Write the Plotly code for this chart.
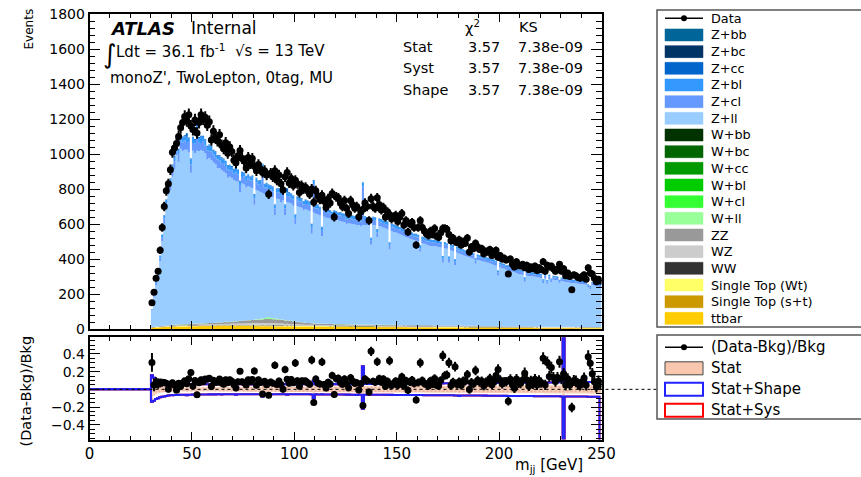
import numpy as np
import plotly.graph_objects as go

# ---------------- data: 1 GeV bins, left edges 30 ... 249 GeV ----------------
bin_low = list(range(30, 250))

data = [
    150, 210, 290, 330, 450, 580, 700, 790, 830, 910,
    1010, 1035, 1060, 1100, 1150, 1180, 1215, 1190, 1225, 1160,
    1140, 1195, 1120, 1180, 1225, 1200, 1210, 1165, 1185, 1080,
    1130, 1095, 1075, 1110, 1050, 1030, 1065, 1005, 1040, 1015,
    965, 950, 990, 1020, 975, 960, 920, 980, 945, 975,
    930, 905, 940, 915, 895, 905, 880, 770, 890, 870,
    905, 850, 880, 830, 795, 870, 895, 835, 860, 820,
    850, 830, 780, 820, 800, 810, 790, 770, 800, 725,
    790, 760, 740, 765, 730, 695, 745, 720, 775, 640,
    755, 750, 720, 700, 735, 690, 660, 735, 710, 690,
    700, 640, 670, 685, 720, 700, 620, 745, 700, 690,
    750, 710, 680, 695, 640, 670, 655, 630, 640, 650,
    615, 640, 660, 595, 620, 555, 600, 610, 580, 480,
    580, 620, 580, 560, 545, 535, 560, 540, 575, 530,
    525, 550, 575, 575, 570, 540, 505, 520, 500, 495,
    510, 480, 500, 490, 520, 440, 470, 460, 490, 470,
    455, 460, 430, 445, 440, 455, 420, 430, 450, 410,
    420, 400, 405, 395, 315, 400, 370, 355, 385, 365,
    360, 370, 350, 365, 340, 355, 345, 360, 335, 350,
    340, 385, 330, 365, 355, 360, 345, 330, 340, 370,
    330, 345, 305, 320, 300, 225, 310, 305, 295, 290,
    300, 310, 285, 350, 320, 315, 290, 270, 285, 275,
]

z_ll = [
    95, 172, 235, 272, 372, 482, 583, 666, 750, 774,
    846, 891, 969, 926, 1003, 988, 996, 997, 980, 863,
    988, 975, 987, 985, 990, 983, 969, 935, 942, 929,
    916, 905, 880, 881, 871, 860, 849, 825, 828, 818,
    808, 803, 796, 735, 785, 777, 760, 765, 759, 754,
    656, 739, 731, 725, 716, 708, 701, 692, 694, 692,
    590, 687, 685, 670, 681, 600, 676, 675, 669, 660,
    555, 659, 657, 654, 640, 649, 644, 639, 510, 631,
    627, 623, 618, 500, 611, 606, 604, 602, 590, 598,
    595, 592, 589, 585, 583, 570, 576, 575, 572, 571,
    568, 568, 560, 568, 568, 568, 565, 455, 568, 570,
    500, 564, 560, 554, 550, 544, 430, 536, 531, 527,
    525, 519, 515, 510, 504, 500, 495, 491, 487, 483,
    479, 420, 469, 466, 461, 456, 454, 454, 453, 451,
    450, 447, 360, 443, 440, 360, 431, 427, 345, 417,
    411, 407, 403, 399, 394, 391, 387, 383, 355, 377,
    374, 371, 368, 364, 361, 358, 353, 349, 345, 290,
    337, 332, 329, 324, 321, 316, 312, 309, 304, 300,
    297, 295, 255, 290, 289, 287, 286, 284, 282, 281,
    279, 250, 276, 245, 273, 255, 269, 267, 265, 248,
    261, 259, 256, 254, 252, 250, 249, 248, 246, 245,
    244, 243, 241, 225, 215, 238, 235, 233, 230, 228,
]

z_cl = [
    5, 9, 12, 14, 19, 24, 29, 33, 36, 39,
    42, 45, 45, 46, 48, 50, 55, 38, 60, 47,
    44, 52, 110, 47, 40, 58, 46, 52, 39, 50,
    46, 40, 52, 44, 38, 50, 41, 47, 36, 44,
    35, 48, 40, 41, 37, 45, 36, 44, 39, 42,
    36, 42, 38, 40, 140, 37, 44, 35, 41, 33,
    38, 33, 40, 36, 31, 39, 34, 37, 30, 36,
    32, 37, 30, 35, 33, 29, 36, 31, 34, 160,
    30, 34, 29, 31, 33, 27, 32, 30, 28, 33,
    31, 28, 32, 27, 30, 29, 26, 31, 28, 30,
    27, 31, 28, 220, 29, 26, 30, 24, 28, 27,
    29, 27, 25, 28, 26, 27, 24, 28, 25, 26,
    24, 27, 23, 25, 22, 26, 23, 24, 21, 25,
    23, 21, 24, 22, 20, 23, 22, 21, 24, 20,
    22, 20, 23, 21, 19, 22, 21, 19, 20, 22,
    19, 21, 20, 18, 20, 19, 17, 20, 18, 19,
    18, 19, 17, 18, 16, 19, 17, 18, 16, 17,
    17, 16, 18, 15, 16, 17, 15, 16, 14, 16,
    15, 14, 16, 14, 15, 13, 15, 14, 13, 15,
    14, 13, 15, 13, 14, 13, 12, 14, 13, 12,
    13, 12, 14, 12, 13, 12, 13, 11, 12, 13,
    12, 13, 11, 12, 12, 11, 12, 11, 12, 11,
]

z_bl = [
    3, 5, 7, 8, 10, 14, 16, 18, 20, 22,
    24, 25, 25, 26, 27, 28, 22, 35, 20, 30,
    30, 22, 60, 28, 35, 25, 30, 20, 33, 27,
    22, 30, 18, 26, 29, 20, 27, 19, 28, 21,
    25, 18, 26, 20, 24, 19, 27, 21, 18, 25,
    20, 24, 19, 23, 25, 18, 22, 26, 19, 24,
    18, 23, 19, 21, 25, 17, 22, 18, 24, 19,
    21, 16, 22, 18, 17, 23, 16, 20, 19, 25,
    16, 20, 17, 19, 15, 18, 21, 16, 19, 17,
    18, 15, 17, 19, 14, 18, 16, 15, 19, 16,
    15, 17, 14, 20, 18, 15, 16, 13, 17, 15,
    16, 14, 17, 13, 15, 16, 14, 13, 16, 14,
    14, 12, 15, 13, 14, 11, 13, 14, 12, 13,
    13, 12, 11, 14, 12, 13, 11, 12, 13, 12,
    12, 11, 13, 12, 10, 12, 11, 13, 12, 10,
    11, 10, 12, 11, 10, 11, 12, 10, 11, 10,
    10, 11, 9, 10, 11, 9, 10, 11, 9, 10,
    9, 10, 9, 8, 10, 9, 8, 9, 10, 8,
    8, 9, 8, 9, 8, 7, 8, 9, 8, 7,
    8, 7, 8, 7, 8, 7, 8, 7, 7, 8,
    7, 8, 7, 6, 7, 7, 6, 7, 7, 6,
    7, 6, 7, 6, 7, 6, 7, 6, 6, 7,
]

z_cc = [
    0, 1, 1, 1, 2, 2, 3, 3, 4, 4,
    4, 5, 5, 5, 5, 6, 6, 20, 6, 5,
    5, 6, 5, 5, 6, 5, 5, 6, 5, 5,
    5, 5, 5, 4, 5, 5, 4, 5, 4, 5,
    4, 25, 4, 4, 5, 4, 4, 4, 4, 4,
    4, 4, 4, 4, 4, 4, 4, 4, 4, 4,
    4, 4, 4, 4, 4, 4, 22, 4, 4, 4,
    4, 3, 4, 3, 4, 3, 4, 3, 4, 3,
    3, 3, 3, 3, 3, 3, 3, 3, 3, 3,
    3, 3, 3, 3, 3, 3, 3, 3, 3, 3,
    15, 3, 3, 3, 3, 3, 3, 3, 3, 3,
    3, 3, 3, 3, 3, 3, 3, 3, 3, 3,
    3, 3, 3, 3, 2, 3, 3, 2, 3, 3,
    2, 3, 2, 3, 2, 2, 3, 2, 2, 3,
    2, 2, 2, 2, 2, 2, 2, 2, 2, 2,
    10, 2, 2, 2, 2, 2, 2, 2, 2, 2,
    2, 2, 2, 2, 2, 2, 2, 2, 2, 2,
    2, 2, 2, 2, 2, 2, 2, 2, 2, 2,
    2, 2, 2, 2, 2, 2, 2, 2, 2, 2,
    2, 2, 2, 2, 2, 1, 2, 2, 2, 1,
    1, 1, 1, 1, 1, 1, 1, 1, 1, 1,
    1, 1, 1, 1, 1, 1, 1, 1, 1, 1,
]

w_cl = [
    0, 0, 0, 0, 0, 0, 0, 0, 0, 0,
    0, 0, 0, 0, 0, 0, 0, 0, 0, 0,
    0, 0, 0, 0, 0, 0, 0, 0, 0, 0,
    0, 0, 0, 0, 0, 0, 0, 0, 0, 0,
    0, 0, 0, 0, 0, 0, 0, 0, 0, 0,
    0, 0, 0, 0, 1, 1, 2, 3, 2, 1,
    1, 0, 0, 0, 0, 0, 0, 0, 0, 0,
    0, 0, 0, 0, 0, 0, 0, 0, 0, 0,
    0, 0, 0, 0, 0, 0, 0, 0, 0, 0,
    0, 0, 0, 0, 0, 0, 0, 0, 0, 0,
    0, 0, 0, 0, 0, 0, 0, 0, 0, 0,
    0, 0, 0, 0, 0, 0, 0, 0, 0, 0,
    0, 0, 0, 0, 0, 0, 0, 0, 0, 0,
    0, 0, 0, 0, 0, 0, 0, 0, 0, 0,
    0, 0, 0, 0, 0, 0, 0, 0, 0, 0,
    0, 0, 0, 0, 0, 0, 0, 0, 0, 0,
    0, 0, 0, 0, 0, 0, 0, 0, 0, 0,
    0, 0, 0, 0, 0, 0, 0, 0, 0, 0,
    0, 0, 0, 0, 0, 0, 0, 0, 0, 0,
    0, 0, 0, 0, 0, 0, 0, 0, 0, 0,
    0, 0, 0, 0, 0, 0, 0, 0, 0, 0,
    0, 0, 0, 0, 0, 0, 0, 0, 0, 0,
]

w_ll = [
    0, 0, 0, 0, 0, 0, 0, 0, 0, 0,
    1, 1, 1, 1, 1, 1, 1, 1, 1, 1,
    1, 1, 1, 1, 1, 1, 1, 1, 1, 1,
    1, 1, 1, 1, 1, 1, 1, 1, 1, 1,
    1, 1, 1, 1, 1, 1, 1, 1, 1, 1,
    2, 3, 3, 4, 4, 5, 6, 9, 5, 4,
    4, 3, 3, 2, 2, 2, 1, 1, 1, 1,
    1, 1, 1, 1, 1, 1, 1, 1, 1, 1,
    1, 1, 1, 1, 1, 1, 1, 1, 1, 1,
    1, 1, 1, 1, 1, 1, 1, 1, 1, 1,
    1, 1, 1, 1, 1, 1, 1, 1, 1, 1,
    1, 1, 1, 1, 1, 1, 1, 1, 1, 1,
    0, 0, 0, 0, 0, 0, 0, 0, 0, 0,
    0, 0, 0, 0, 0, 0, 0, 0, 0, 0,
    0, 0, 0, 0, 0, 0, 0, 0, 0, 0,
    0, 0, 0, 0, 0, 0, 0, 0, 0, 0,
    0, 0, 0, 0, 0, 0, 0, 0, 0, 0,
    0, 0, 0, 0, 0, 0, 0, 0, 0, 0,
    0, 0, 0, 0, 0, 0, 0, 0, 0, 0,
    0, 0, 0, 0, 0, 0, 0, 0, 0, 0,
    0, 0, 0, 0, 0, 0, 0, 0, 0, 0,
    0, 0, 0, 0, 0, 0, 0, 0, 0, 0,
]

zz = [
    1, 1, 2, 2, 2, 2, 3, 3, 3, 3,
    3, 3, 3, 4, 4, 4, 4, 4, 4, 5,
    5, 5, 5, 5, 6, 6, 6, 6, 7, 7,
    7, 8, 8, 8, 9, 9, 10, 10, 11, 11,
    12, 12, 13, 14, 14, 15, 16, 16, 17, 18,
    18, 19, 20, 20, 21, 22, 22, 23, 23, 23,
    23, 23, 22, 22, 21, 20, 19, 18, 17, 16,
    15, 14, 13, 12, 11, 10, 10, 9, 9, 8,
    8, 7, 7, 7, 6, 6, 6, 6, 6, 5,
    5, 5, 5, 5, 5, 5, 5, 5, 5, 5,
    5, 5, 5, 5, 5, 5, 5, 5, 5, 4,
    4, 4, 4, 4, 4, 4, 4, 4, 4, 4,
    4, 4, 4, 4, 4, 4, 4, 4, 4, 4,
    4, 4, 4, 4, 4, 4, 4, 3, 4, 3,
    3, 3, 3, 3, 3, 3, 3, 3, 3, 3,
    3, 3, 3, 3, 3, 3, 3, 3, 3, 3,
    3, 3, 3, 3, 3, 3, 3, 3, 3, 3,
    3, 3, 3, 3, 3, 3, 3, 3, 3, 3,
    3, 3, 3, 3, 2, 3, 2, 3, 2, 2,
    2, 2, 2, 2, 2, 2, 2, 2, 2, 2,
    2, 2, 2, 2, 2, 2, 2, 2, 2, 2,
    2, 2, 2, 2, 2, 2, 2, 2, 2, 2,
]

wz = [
    1, 1, 1, 1, 2, 2, 2, 2, 2, 2,
    2, 2, 3, 3, 3, 3, 3, 3, 3, 3,
    4, 4, 4, 4, 4, 4, 5, 5, 5, 5,
    5, 5, 6, 6, 6, 6, 7, 7, 7, 8,
    8, 8, 9, 9, 10, 10, 10, 11, 11, 11,
    12, 12, 12, 12, 13, 13, 13, 13, 12, 12,
    12, 11, 11, 10, 10, 9, 9, 8, 8, 7,
    7, 7, 6, 6, 6, 5, 5, 5, 5, 4,
    4, 4, 4, 4, 4, 4, 4, 4, 4, 4,
    4, 4, 4, 4, 4, 3, 4, 3, 3, 3,
    3, 3, 3, 3, 3, 3, 3, 3, 3, 3,
    3, 3, 3, 3, 3, 3, 3, 3, 3, 3,
    3, 3, 3, 3, 3, 3, 3, 3, 3, 3,
    3, 3, 3, 3, 3, 3, 3, 3, 3, 3,
    3, 3, 3, 3, 3, 3, 3, 3, 3, 3,
    3, 3, 3, 3, 3, 3, 3, 3, 3, 3,
    2, 2, 2, 2, 2, 2, 2, 2, 2, 2,
    2, 2, 2, 2, 2, 2, 2, 2, 2, 2,
    2, 2, 2, 2, 2, 2, 2, 2, 2, 2,
    2, 2, 2, 2, 2, 2, 2, 2, 2, 2,
    2, 2, 2, 2, 2, 2, 2, 2, 2, 2,
    2, 2, 2, 2, 2, 2, 2, 2, 2, 2,
]

ww = [
    1, 1, 1, 1, 1, 1, 1, 1, 1, 1,
    2, 2, 2, 2, 2, 2, 2, 2, 2, 2,
    2, 2, 2, 2, 2, 2, 2, 2, 2, 2,
    2, 2, 2, 2, 2, 2, 2, 2, 2, 2,
    2, 2, 2, 2, 2, 2, 2, 2, 2, 2,
    2, 2, 2, 2, 2, 2, 2, 2, 2, 2,
    2, 2, 2, 2, 2, 2, 2, 2, 2, 2,
    2, 2, 2, 2, 2, 2, 2, 2, 2, 2,
    2, 2, 2, 2, 2, 2, 2, 2, 2, 2,
    2, 2, 2, 2, 2, 2, 2, 2, 2, 2,
    2, 2, 2, 2, 2, 2, 2, 2, 2, 2,
    2, 2, 2, 2, 2, 2, 2, 2, 2, 2,
    2, 2, 2, 2, 2, 2, 2, 2, 2, 2,
    2, 2, 2, 2, 2, 2, 2, 2, 2, 2,
    2, 2, 2, 2, 2, 2, 2, 2, 2, 2,
    2, 2, 2, 2, 2, 2, 2, 2, 2, 2,
    2, 2, 2, 2, 2, 2, 2, 2, 2, 2,
    1, 1, 1, 1, 1, 1, 1, 1, 1, 1,
    1, 1, 1, 1, 1, 1, 1, 1, 1, 1,
    1, 1, 1, 1, 1, 1, 1, 1, 1, 1,
    1, 1, 1, 1, 1, 1, 1, 1, 1, 1,
    1, 1, 1, 1, 1, 1, 1, 1, 1, 1,
]

st_wt = [
    2, 2, 2, 2, 2, 2, 2, 2, 2, 2,
    3, 3, 3, 3, 3, 3, 3, 3, 3, 3,
    3, 3, 3, 3, 3, 3, 3, 3, 3, 3,
    3, 3, 3, 3, 3, 3, 3, 3, 3, 3,
    3, 3, 3, 3, 3, 3, 3, 3, 3, 3,
    3, 3, 3, 3, 3, 3, 3, 3, 3, 3,
    3, 3, 3, 3, 3, 3, 3, 3, 3, 3,
    3, 3, 3, 3, 3, 3, 3, 3, 3, 3,
    3, 3, 3, 3, 3, 3, 3, 3, 3, 3,
    3, 3, 3, 3, 3, 3, 3, 3, 3, 3,
    3, 3, 3, 3, 3, 3, 3, 3, 3, 3,
    3, 3, 3, 3, 3, 3, 3, 3, 3, 3,
    2, 2, 2, 2, 2, 2, 2, 2, 2, 2,
    2, 2, 2, 2, 2, 2, 2, 2, 2, 2,
    2, 2, 2, 2, 2, 2, 2, 2, 2, 2,
    2, 2, 2, 2, 2, 2, 2, 2, 2, 2,
    2, 2, 2, 2, 2, 2, 2, 2, 2, 2,
    2, 2, 2, 2, 2, 2, 2, 2, 2, 2,
    2, 2, 2, 2, 2, 2, 2, 2, 2, 2,
    2, 2, 2, 2, 2, 2, 2, 2, 2, 2,
    2, 2, 2, 2, 2, 2, 2, 2, 2, 2,
    2, 2, 2, 2, 2, 2, 2, 2, 2, 2,
]

st_st = [
    1, 1, 1, 1, 1, 1, 1, 1, 1, 1,
    1, 1, 1, 1, 1, 1, 1, 1, 1, 1,
    1, 1, 1, 1, 1, 1, 1, 1, 1, 1,
    1, 1, 1, 1, 1, 1, 1, 1, 1, 1,
    1, 1, 1, 1, 1, 1, 1, 1, 1, 1,
    1, 1, 1, 1, 1, 1, 1, 1, 1, 1,
    1, 1, 1, 1, 1, 1, 1, 1, 1, 1,
    1, 1, 1, 1, 1, 1, 1, 1, 1, 1,
    1, 1, 1, 1, 1, 1, 1, 1, 1, 1,
    1, 1, 1, 1, 1, 1, 1, 1, 1, 1,
    1, 1, 1, 1, 1, 1, 1, 1, 1, 1,
    1, 1, 1, 1, 1, 1, 1, 1, 1, 1,
    1, 1, 1, 1, 1, 1, 1, 1, 1, 1,
    1, 1, 1, 1, 1, 1, 1, 1, 1, 1,
    1, 1, 1, 1, 1, 1, 1, 1, 1, 1,
    1, 1, 1, 1, 1, 1, 1, 1, 1, 1,
    1, 1, 1, 1, 1, 1, 1, 1, 1, 1,
    1, 1, 1, 1, 1, 1, 1, 1, 1, 1,
    1, 1, 1, 1, 1, 1, 1, 1, 1, 1,
    1, 1, 1, 1, 1, 1, 1, 1, 1, 1,
    1, 1, 1, 1, 1, 1, 1, 1, 1, 1,
    1, 1, 1, 1, 1, 1, 1, 1, 1, 1,
]

ttbar = [
    6, 7, 8, 8, 9, 10, 10, 11, 11, 12,
    12, 12, 13, 13, 13, 14, 14, 14, 15, 15,
    15, 15, 15, 16, 16, 16, 16, 16, 16, 16,
    16, 16, 17, 17, 16, 17, 17, 16, 17, 17,
    17, 16, 17, 17, 16, 17, 16, 17, 16, 16,
    16, 16, 16, 16, 15, 16, 16, 15, 16, 15,
    15, 15, 15, 15, 15, 14, 15, 14, 15, 14,
    14, 14, 14, 14, 14, 14, 13, 14, 13, 14,
    13, 13, 13, 13, 13, 13, 13, 12, 13, 12,
    12, 12, 12, 12, 12, 12, 12, 11, 12, 11,
    11, 11, 11, 11, 11, 11, 11, 11, 11, 10,
    10, 10, 10, 10, 10, 10, 10, 10, 10, 10,
    10, 10, 10, 9, 10, 9, 9, 9, 9, 9,
    9, 9, 9, 9, 9, 9, 9, 9, 8, 9,
    8, 8, 8, 8, 8, 8, 8, 8, 8, 8,
    8, 8, 8, 7, 8, 7, 7, 7, 7, 7,
    7, 7, 7, 7, 7, 7, 7, 7, 7, 6,
    6, 7, 6, 6, 6, 6, 6, 6, 6, 6,
    6, 6, 6, 6, 6, 6, 6, 5, 6, 5,
    5, 5, 5, 5, 5, 5, 5, 5, 5, 5,
    5, 5, 5, 5, 5, 5, 5, 4, 5, 4,
    4, 4, 4, 4, 4, 4, 4, 4, 4, 4,
]

# relative uncertainties for the ratio bands
stat_err = [
    .12, .07, .055, .045, .04, .035, .032, .03, .028, .026,
    .025, .024, .024, .023, .023, .023, .022, .028, .022, .024,
    .022, .023, .035, .022, .022, .023, .022, .023, .023, .023,
    .023, .024, .023, .024, .024, .024, .024, .025, .024, .025,
    .025, .03, .025, .025, .025, .026, .025, .026, .026, .026,
    .026, .026, .026, .027, .05, .027, .027, .027, .027, .028,
    .028, .028, .028, .028, .029, .028, .034, .029, .029, .029,
    .029, .029, .03, .029, .03, .03, .03, .03, .031, .06,
    .03, .031, .031, .031, .031, .031, .032, .031, .032, .032,
    .032, .032, .032, .032, .033, .032, .033, .033, .033, .033,
    .038, .033, .034, .12, .034, .034, .034, .034, .034, .034,
    .035, .034, .035, .035, .035, .035, .035, .035, .036, .035,
    .036, .036, .036, .036, .036, .036, .037, .036, .037, .037,
    .037, .037, .037, .037, .038, .037, .038, .038, .038, .038,
    .038, .038, .039, .038, .039, .039, .039, .039, .039, .039,
    .045, .039, .04, .04, .04, .04, .04, .04, .041, .04,
    .041, .041, .041, .041, .041, .042, .041, .042, .042, .042,
    .042, .042, .043, .042, .043, .043, .043, .043, .043, .044,
    .044, .044, .044, .044, .044, .045, .044, .045, .045, .045,
    .045, .045, .046, .045, .046, .046, .046, .046, .046, .047,
    .047, 2.0, .047, .047, .047, .048, .047, .048, .048, .048,
    .048, .048, .048, .049, .049, .049, .049, .049, .05, .05,
]

shape_up = [
    .16, .13, .11, .1, .09, .085, .08, .075, .07, .068,
    .066, .065, .064, .063, .062, .061, .06, .066, .06, .061,
    .059, .06, .075, .058, .058, .059, .058, .058, .057, .058,
    .057, .058, .057, .057, .058, .057, .056, .057, .056, .057,
    .056, .062, .056, .057, .056, .056, .055, .056, .056, .055,
    .055, .056, .055, .056, .085, .055, .056, .055, .056, .056,
    .055, .056, .056, .055, .056, .056, .062, .056, .056, .057,
    .056, .057, .056, .057, .057, .056, .057, .057, .058, .1,
    .057, .058, .058, .057, .058, .058, .058, .058, .059, .058,
    .059, .058, .059, .059, .059, .06, .059, .06, .06, .06,
    .065, .06, .06, .26, .061, .06, .061, .061, .061, .061,
    .062, .061, .062, .062, .062, .062, .063, .062, .063, .063,
    .063, .063, .064, .063, .064, .064, .064, .064, .065, .065,
    .065, .065, .065, .066, .066, .066, .066, .066, .067, .067,
    .067, .067, .067, .068, .068, .068, .068, .068, .069, .069,
    .075, .069, .07, .069, .07, .07, .07, .07, .071, .071,
    .071, .071, .072, .071, .072, .072, .072, .073, .072, .073,
    .073, .073, .074, .073, .074, .074, .074, .075, .074, .075,
    .075, .075, .076, .075, .076, .076, .076, .077, .077, .077,
    .077, .077, .078, .078, .078, .078, .079, .079, .079, .079,
    .08, 5.0, .08, .08, .08, .081, .081, .081, .081, .082,
    .082, .082, .082, .083, .083, .083, .083, .084, .084, .084,
]

shape_dn = [
    .14, .13, .11, .1, .09, .085, .08, .075, .07, .068,
    .066, .065, .064, .063, .062, .061, .06, .066, .06, .061,
    .059, .06, .075, .058, .058, .059, .058, .058, .057, .058,
    .057, .058, .057, .057, .058, .057, .056, .057, .056, .057,
    .056, .062, .056, .057, .056, .056, .055, .056, .056, .055,
    .055, .056, .055, .056, .085, .055, .056, .055, .056, .056,
    .055, .056, .056, .055, .056, .056, .062, .056, .056, .057,
    .056, .057, .056, .057, .057, .056, .057, .057, .058, .1,
    .057, .058, .058, .057, .058, .058, .058, .058, .059, .058,
    .059, .058, .059, .059, .059, .06, .059, .06, .06, .06,
    .065, .06, .06, .22, .061, .06, .061, .061, .061, .061,
    .062, .061, .062, .062, .062, .062, .063, .062, .063, .063,
    .063, .063, .064, .063, .064, .064, .064, .064, .065, .065,
    .065, .065, .065, .066, .066, .066, .066, .066, .067, .067,
    .067, .067, .067, .068, .068, .068, .068, .068, .069, .069,
    .075, .069, .07, .069, .07, .07, .07, .07, .071, .071,
    .071, .071, .072, .071, .072, .072, .072, .073, .072, .073,
    .073, .073, .074, .073, .074, .074, .074, .075, .074, .075,
    .075, .075, .076, .075, .076, .076, .076, .077, .077, .077,
    .077, .077, .078, .078, .078, .078, .079, .079, .079, .079,
    .08, 5.0, .08, .08, .08, .081, .081, .081, .081, .082,
    .082, .082, .082, .083, .083, .083, .083, .084, .084, 5.0,
]

legend_main = ['Data', 'Z+bb', 'Z+bc', 'Z+cc', 'Z+bl', 'Z+cl', 'Z+ll',
               'W+bb', 'W+bc', 'W+cc', 'W+bl', 'W+cl', 'W+ll', 'ZZ', 'WZ', 'WW',
               'Single Top (Wt)', 'Single Top (s+t)', 'ttbar']
legend_ratio = ['(Data-Bkg)/Bkg', 'Stat', 'Stat+Shape', 'Stat+Sys']

# ---------------- styling ----------------
COL = {'Z+bb': '#006699', 'Z+bc': '#003366', 'Z+cc': '#0066cc', 'Z+bl': '#3399ff',
       'Z+cl': '#6699ff', 'Z+ll': '#99ccff', 'W+bb': '#003300', 'W+bc': '#006600',
       'W+cc': '#009900', 'W+bl': '#00cc00', 'W+cl': '#33ff33', 'W+ll': '#99ff99',
       'ZZ': '#999999', 'WZ': '#cccccc', 'WW': '#333333', 'Single Top (Wt)': '#ffff66',
       'Single Top (s+t)': '#cc9900', 'ttbar': '#ffcc00'}
FONT = 'DejaVu Sans'
W, H = 861, 477


def px(x):
    return x / W


def py(y):
    return 1 - y / H


fig = go.Figure()
edges = np.arange(bin_low[0], bin_low[-1] + 2)


def step(v):
    v = np.asarray(v, dtype=float)
    return np.append(v, v[-1])


stack = [('ttbar', ttbar), ('Single Top (s+t)', st_st), ('Single Top (Wt)', st_wt),
         ('WW', ww), ('WZ', wz), ('ZZ', zz), ('W+ll', w_ll), ('W+cl', w_cl),
         ('Z+ll', z_ll), ('Z+cl', z_cl), ('Z+bl', z_bl), ('Z+cc', z_cc)]
cum = np.zeros(len(bin_low))
for i, (name, vals) in enumerate(stack):
    cum = cum + np.asarray(vals, dtype=float)
    fig.add_trace(go.Scatter(
        x=edges, y=step(cum), mode='lines', name=name,
        line=dict(width=0, shape='hv', color=COL[name]),
        fill='tozeroy' if i == 0 else 'tonexty', fillcolor=COL[name],
        hoverinfo='skip', xaxis='x', yaxis='y'))
bkg = cum
d = np.asarray(data, dtype=float)
centers = np.asarray(bin_low, dtype=float) + 0.5
fig.add_trace(go.Scatter(
    x=centers, y=d, mode='markers', name='Data',
    marker=dict(color='black', size=7),
    error_y=dict(type='data', array=np.sqrt(d), color='black', thickness=2, width=0),
    error_x=dict(type='constant', value=0.5, color='black', thickness=2, width=0),
    xaxis='x', yaxis='y'))

# ---------------- ratio panel ----------------
ratio = (d - bkg) / bkg
rerr = np.sqrt(d) / bkg
xb = np.concatenate([[0], edges])


def band(v):
    v = np.asarray(v, dtype=float)
    return np.concatenate([[0], v, [v[-1]]])


for sgn, arr in ((1, shape_up), (-1, shape_dn)):
    fig.add_trace(go.Scatter(x=xb, y=sgn * band(arr), mode='lines',
                             line=dict(color='#ff0000', width=2, shape='hv'),
                             hoverinfo='skip', xaxis='x2', yaxis='y2'))
fig.add_trace(go.Scatter(x=xb, y=-band(stat_err), mode='lines',
                         line=dict(width=0, shape='hv', color='#f4b89c'),
                         hoverinfo='skip', xaxis='x2', yaxis='y2'))
fig.add_trace(go.Scatter(x=xb, y=band(stat_err), mode='lines',
                         line=dict(width=0, shape='hv', color='#f4b89c'),
                         fill='tonexty', fillcolor='#f8c7ae',
                         fillpattern=dict(shape='.', fgcolor='#d98f70', bgcolor='#fad3c0',
                                          size=4, solidity=0.3),
                         hoverinfo='skip', xaxis='x2', yaxis='y2'))
for sgn, arr in ((1, shape_up), (-1, shape_dn)):
    fig.add_trace(go.Scatter(x=xb, y=sgn * band(arr), mode='lines',
                             line=dict(color='#2222ff', width=2, shape='hv'),
                             hoverinfo='skip', xaxis='x2', yaxis='y2'))
fig.add_trace(go.Scatter(
    x=centers, y=ratio, mode='markers',
    marker=dict(color='black', size=7),
    error_y=dict(type='data', array=rerr, color='black', thickness=2, width=0),
    xaxis='x2', yaxis='y2'))

# ---------------- axes ----------------
xdom = [px(89.5), px(601.5)]
ax_common = dict(showline=True, linecolor='black', linewidth=1.5, mirror='allticks',
                 ticks='inside', tickcolor='black', tickwidth=1, showgrid=False,
                 zeroline=False, automargin=False)
fig.update_layout(
    width=W, height=H, margin=dict(l=0, r=0, t=0, b=0, pad=0, autoexpand=False),
    paper_bgcolor='white', plot_bgcolor='white', showlegend=False,
    font=dict(family=FONT, size=14, color='black'),
    xaxis=dict(domain=xdom, range=[0, 250], anchor='y', showticklabels=False,
               dtick=50, tick0=0, ticklen=8,
               minor=dict(ticks='inside', dtick=10, tick0=0, ticklen=4, tickcolor='black'),
               **ax_common),
    yaxis=dict(domain=[py(329), py(14)], range=[0, 1800], anchor='x',
               dtick=200, tick0=0, ticklen=11, tickfont=dict(size=14),
               minor=dict(ticks='inside', dtick=40, tick0=0, ticklen=5.5, tickcolor='black'),
               **ax_common),
    xaxis2=dict(domain=xdom, range=[0, 250], anchor='y2', matches='x',
                dtick=50, tick0=0, ticklen=8, tickfont=dict(size=15),
                minor=dict(ticks='inside', dtick=10, tick0=0, ticklen=4, tickcolor='black'),
                **ax_common),
    yaxis2=dict(domain=[py(439.5), py(337.3)], range=[-0.567, 0.588], anchor='x2',
                tickvals=[-0.4, -0.2, 0, 0.2, 0.4],
                ticktext=['\u22120.4', '\u22120.2', '0', '0.2', '0.4'],
                ticklen=11, tickfont=dict(size=14),
                minor=dict(ticks='inside', dtick=0.05, tick0=0, ticklen=5.5, tickcolor='black'),
                **ax_common),
)

shapes = []
ann = []


def text(x, y, s, size=15, xanchor='left', yanchor='middle', **kw):
    ann.append(dict(x=px(x), y=py(y), xref='paper', yref='paper', text=s, showarrow=False,
                    xanchor=xanchor, yanchor=yanchor, borderpad=0,
                    font=dict(family=FONT, size=size, color='black'), **kw))


# dashed zero line of the ratio panel (extends to the legend)
y0px = 337.3 + (0.588 / (0.588 + 0.567)) * (439.5 - 337.3)
shapes.append(dict(type='line', xref='paper', yref='paper', x0=px(89.5), x1=px(657),
                   y0=py(y0px), y1=py(y0px), line=dict(color='black', width=1, dash='3px,3px'),
                   layer='above'))

# axis titles
text(29, 8, 'Events', size=12, xanchor='center', yanchor='top', textangle=-90)
text(25.5, 391, '(Data-Bkg)/Bkg', size=14.5, xanchor='center', textangle=-90)
text(584, 476, 'm<sub>jj</sub> [GeV]', size=15, xanchor='right', yanchor='bottom')

# ATLAS labels
text(109, 28.5, '<b><i>ATLAS</i></b>', size=18)
text(190, 28.5, 'Internal', size=17)
text(110, 54, '\u222b', size=26, xanchor='center')
text(115, 51, 'Ldt = 36.1 fb<sup>-1</sup>', size=15)
text(234, 51, '\u221as = 13 TeV', size=15)
text(109, 78, "monoZ', TwoLepton, 0tag, MU", size=15)

# chi2 / KS table
text(464, 26.7, '\u03c7<sup>2</sup>', size=14.5)
text(518, 26.7, 'KS', size=14.5)
for yy, lab in ((46.7, 'Stat'), (68.3, 'Syst'), (90, 'Shape')):
    text(402, yy, lab, size=14.5)
    text(467, yy, '3.57', size=14.5)
    text(517, yy, '7.38e-09', size=14.5)

# main legend
shapes.append(dict(type='rect', xref='paper', yref='paper', x0=px(657), x1=px(880),
                   y0=py(327), y1=py(10), line=dict(color='#555555', width=1.5)))
for k, lab in enumerate(legend_main):
    yc = 18.3 + 16.67 * k
    if lab == 'Data':
        shapes.append(dict(type='line', xref='paper', yref='paper', x0=px(665), x1=px(703),
                           y0=py(yc), y1=py(yc), line=dict(color='black', width=1.5)))
        shapes.append(dict(type='circle', xref='paper', yref='paper', x0=px(681), x1=px(687),
                           y0=py(yc + 3), y1=py(yc - 3), fillcolor='black',
                           line=dict(color='black', width=0)))
    else:
        shapes.append(dict(type='rect', xref='paper', yref='paper', x0=px(665), x1=px(703),
                           y0=py(yc + 6), y1=py(yc - 6), fillcolor=COL[lab],
                           line=dict(color=COL[lab], width=0.5)))
    text(710, yc, lab, size=12.8)

# ratio legend
shapes.append(dict(type='rect', xref='paper', yref='paper', x0=px(657), x1=px(880),
                   y0=py(419), y1=py(335), line=dict(color='#555555', width=1.5)))
for k, lab in enumerate(legend_ratio):
    yc = 347.3 + 21 * k
    if k == 0:
        shapes.append(dict(type='line', xref='paper', yref='paper', x0=px(665), x1=px(703),
                           y0=py(yc), y1=py(yc), line=dict(color='black', width=1.5)))
        shapes.append(dict(type='circle', xref='paper', yref='paper', x0=px(681), x1=px(687),
                           y0=py(yc + 3), y1=py(yc - 3), fillcolor='black',
                           line=dict(color='black', width=0)))
    elif k == 1:
        shapes.append(dict(type='rect', xref='paper', yref='paper', x0=px(665), x1=px(703),
                           y0=py(yc + 6.5), y1=py(yc - 6.5), fillcolor='#f8c7ae',
                           line=dict(color='#444444', width=1)))
    else:
        c = '#2222ff' if k == 2 else '#ff0000'
        shapes.append(dict(type='rect', xref='paper', yref='paper', x0=px(665), x1=px(703),
                           y0=py(yc + 6.5), y1=py(yc - 6.5), fillcolor='white',
                           line=dict(color=c, width=2)))
    text(710, yc, lab, size=15)

fig.update_layout(shapes=shapes, annotations=ann)
fig.write_html('out.html')
